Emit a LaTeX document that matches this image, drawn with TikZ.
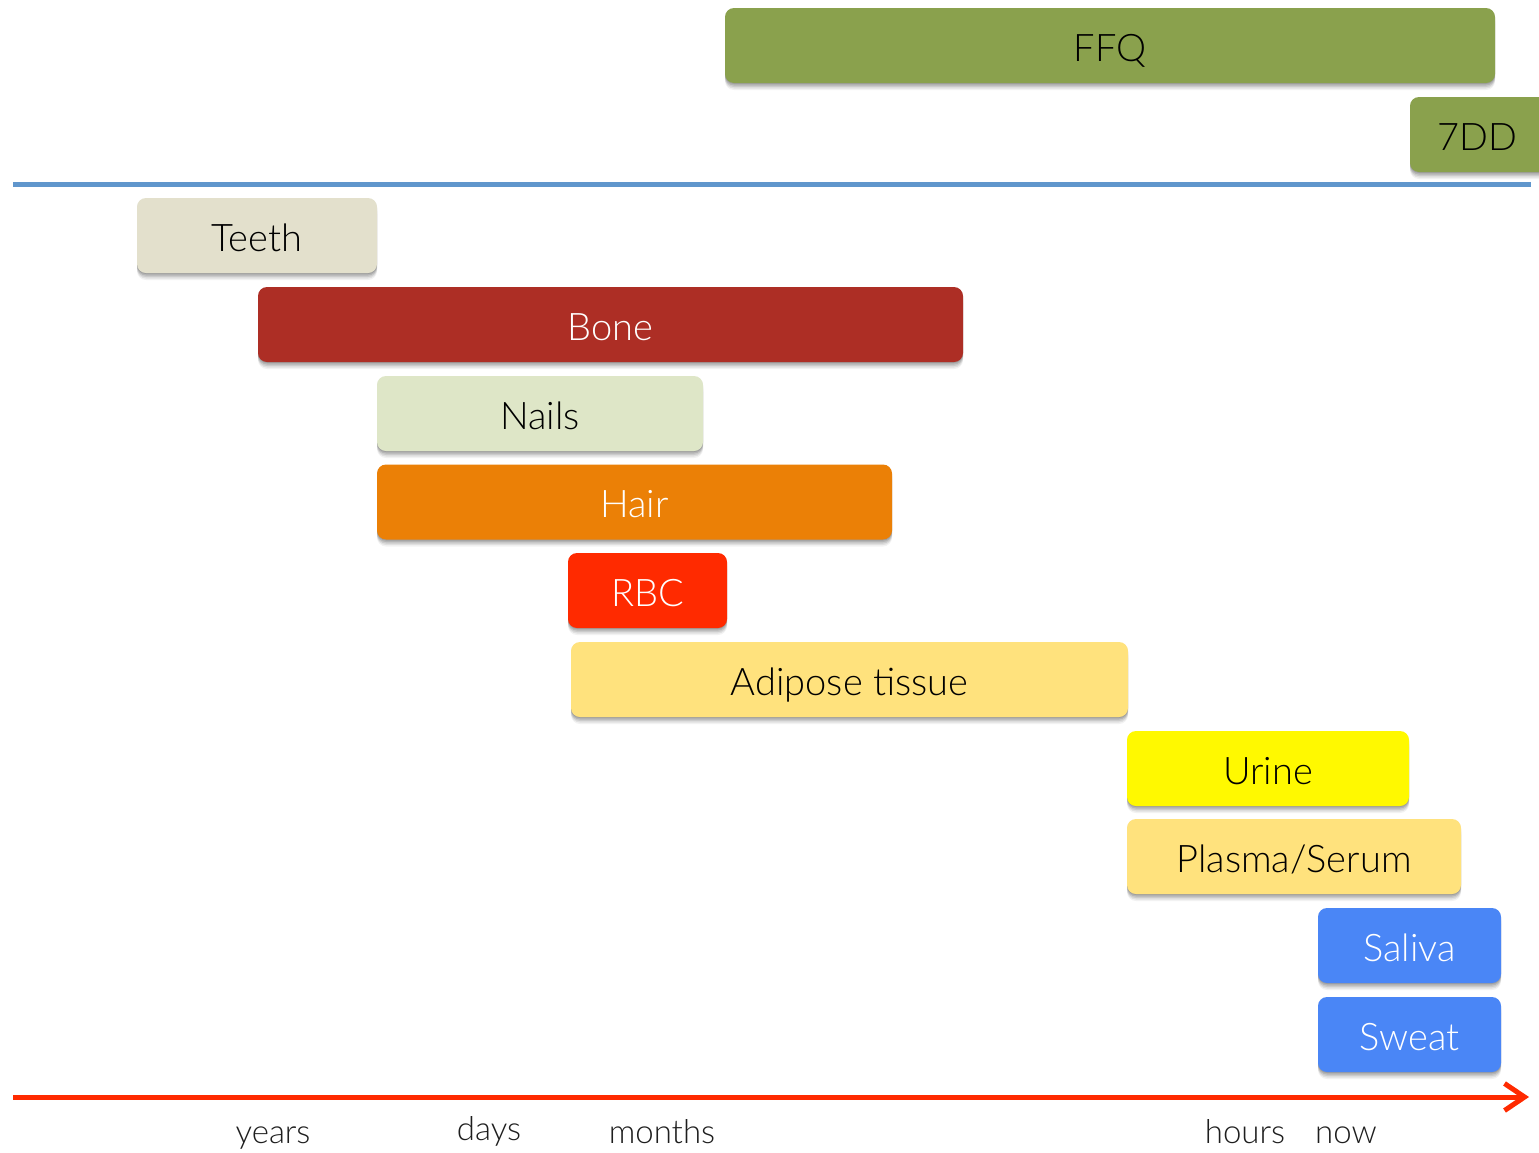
\documentclass[tikz,border=0pt]{standalone}
\usepackage{fontspec}
\IfFontExistsTF{Lato Light}{\setmainfont{Lato Light}}{\setmainfont{Lato}}
\usetikzlibrary{arrows.meta}
\definecolor{ffqgreen}{HTML}{8AA14D}
\definecolor{axisblue}{HTML}{6096CC}
\definecolor{teethc}{HTML}{E3E0CC}
\definecolor{bonec}{HTML}{AD2E25}
\definecolor{nailsc}{HTML}{DEE6C7}
\definecolor{hairc}{HTML}{EB8006}
\definecolor{rbcc}{HTML}{FF2A00}
\definecolor{adic}{HTML}{FFE27D}
\definecolor{urinec}{HTML}{FFF900}
\definecolor{salc}{HTML}{4A86F6}
\definecolor{arrred}{HTML}{FF2A00}
\definecolor{labc}{HTML}{1E1E1E}
\tikzset{
  bar/.style={rounded corners=9pt, minimum height=75pt, inner sep=0pt,
    text height=31pt, text depth=0pt,
    font=\fontsize{38}{40}\selectfont,
    preaction={fill=black, fill opacity=0.05, transform canvas={yshift=-7pt}},
    preaction={fill=black, fill opacity=0.07, transform canvas={yshift=-5.5pt}},
    preaction={fill=black, fill opacity=0.09, transform canvas={yshift=-4pt}},
    preaction={fill=black, fill opacity=0.11, transform canvas={yshift=-2.5pt}},
    preaction={fill=black, fill opacity=0.12, transform canvas={yshift=-1pt}}},
  dark/.style={text=white},
  lite/.style={text=black},
  tick/.style={font=\fontsize{33}{36}\selectfont, text=labc, anchor=base}
}
\begin{document}
\begin{tikzpicture}[x=1pt,y=-1pt]
\useasboundingbox (0,0) rectangle (1539,1152);
\fill[white] (0,0) rectangle (1539,1152);
\node[bar, lite, fill=ffqgreen, minimum width=770pt] (ffq) at (1110,45.5) {FFQ};
\begin{scope}
\clip (0,0) rectangle (1539,1152);
\node[bar, lite, fill=ffqgreen, minimum width=150pt] (sdd) at (1485,134.5) {\hspace*{-16pt}7DD};
\end{scope}
\coordinate (bl) at (13,184.5);
\coordinate (br) at (1531,184.5);
\draw[axisblue, line width=5pt] (bl) -- (br);
\node[bar, lite, fill=teethc, minimum width=240pt] (teeth) at (257,235.5) {Teeth};
\node[bar, dark, fill=bonec, minimum width=705pt] (bone) at (610.5,324.5) {Bone};
\node[bar, lite, fill=nailsc, minimum width=326pt] (nails) at (540,413.5) {Nails};
\node[bar, dark, fill=hairc, minimum width=515pt] (hair) at (634.5,502) {Hair};
\node[bar, dark, fill=rbcc, minimum width=159pt] (rbc) at (647.5,590.5) {RBC};
\node[bar, lite, fill=adic, minimum width=557pt] (adi) at (849.5,679.5) {Adipose tissue};
\node[bar, lite, fill=urinec, minimum width=282pt] (urine) at (1268,768.5) {Urine};
\node[bar, lite, fill=adic, minimum width=334pt] (plasma) at (1294,856.5) {Plasma/Serum};
\node[bar, dark, fill=salc, minimum width=183pt] (saliva) at (1409.5,945.5) {Saliva};
\node[bar, dark, fill=salc, minimum width=183pt] (sweat) at (1409.5,1034.5) {Sweat};
\coordinate (al) at (13,1097);
\coordinate (ar) at (1529,1097);
\draw[arrred, line width=5pt, -{Straight Barb[length=20pt,width=27pt,line width=5pt]}] (al) -- (ar);
\node[tick] (years) at (273,1143) {years};
\node[tick] (days) at (489,1140) {days};
\node[tick] (months) at (662,1143) {months};
\node[tick] (hours) at (1245,1143) {hours};
\node[tick] (now) at (1346,1143) {now};
\end{tikzpicture}
\end{document}
